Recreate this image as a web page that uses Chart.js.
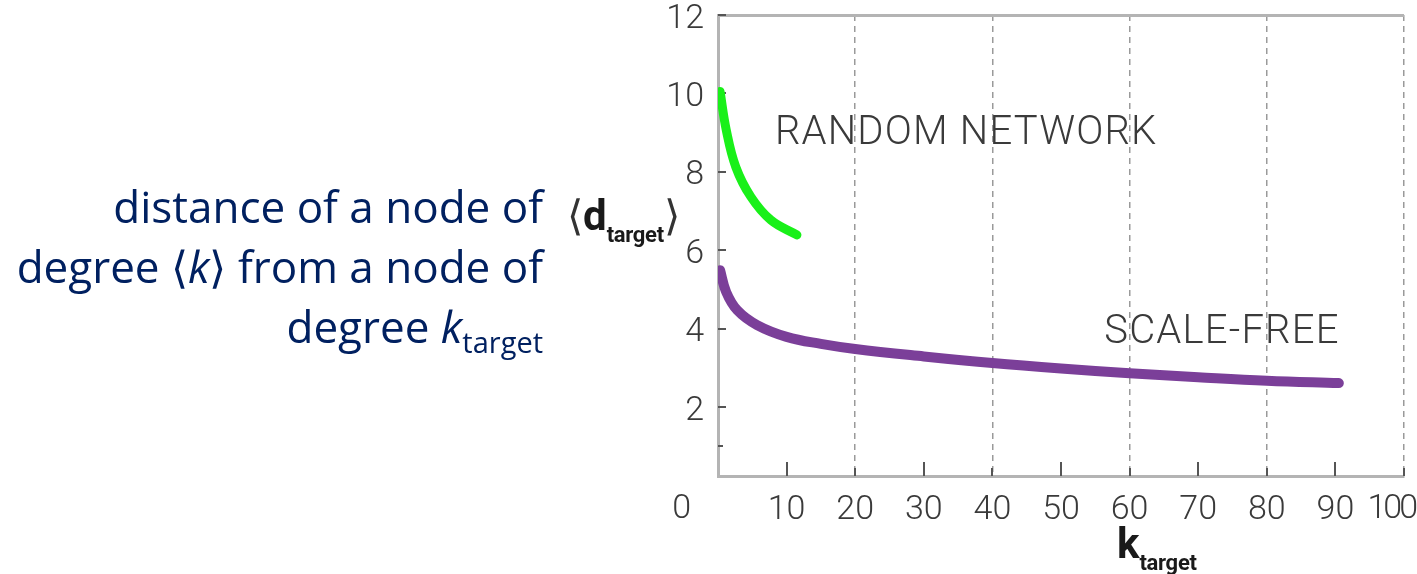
<!DOCTYPE html>
<html lang="en">
<head>
<meta charset="UTF-8">
<title>Distance to a node of degree k_target</title>
<script src="https://cdn.jsdelivr.net/npm/chart.js"></script>
<style>
  body { margin: 0; background: #fff; }
  #wrap { position: relative; width: 1417px; height: 574px; overflow: hidden; }
  #chart { position: absolute; left: 0; top: 0; }
  .txt { position: absolute; white-space: nowrap; }
  #desc {
    right: 874px; top: 176px;
    font-family: 'Open Sans', sans-serif; font-size: 44px; line-height: 60px;
    color: #002060; text-align: right;
  }
  #desc sub { font-size: 29px; vertical-align: -10px; line-height: 0; }
  #ytitle { left: 567px; top: 191px; font-family: Roboto, sans-serif; color: #1a1a1a; }
  #xtitle { left: 1117px; top: 519px; font-family: Roboto, sans-serif; color: #1a1a1a; }
  .br { font-family: 'DejaVu Sans', sans-serif; font-weight: 200; font-size: 42px; color: #333; }
  .big { font-weight: 700; font-size: 42px; }
  .sub { font-weight: 700; font-size: 22px; position: relative; top: 12px; letter-spacing: -0.3px; }
</style>
</head>
<body>
<div id="wrap">
  <canvas id="chart" width="1417" height="574"></canvas>
  <div class="txt" id="desc">distance of a node of<br>degree ⟨<i>k</i>⟩ from a node of<br>degree <i>k</i><sub>target</sub></div>
  <div class="txt" id="ytitle"><span class="br">⟨</span><span class="big">d</span><span class="sub">target</span><span class="br">⟩</span></div>
  <div class="txt" id="xtitle"><span class="big">k</span><span class="sub">target</span></div>
</div>
<script>
// random network curve
const kRandom = [0.3, 1.2, 2.6, 4.8, 7.7, 11.5];
const dRandom = [10.05, 9.07, 8.12, 7.36, 6.77, 6.39];

// scale-free curve
const kScaleFree = [0.3, 1.2, 2.8, 5.7, 10, 15, 20, 30, 40, 50, 60, 70, 80, 90.5];
const dScaleFree = [5.49, 4.93, 4.47, 4.09, 3.79, 3.61, 3.48, 3.29, 3.12, 2.98, 2.86, 2.76, 2.67, 2.61];

const xTickValues = [10, 20, 30, 40, 50, 60, 70, 80, 90, 100];
const xDashedValues = [20, 40, 60, 80, 100];
const yTickValues = [2, 4, 6, 8, 10, 12];
const yMinorTicks = [1];

const toPoints = (xs, ys) => xs.map((x, i) => ({ x: x, y: ys[i] }));

const tickFont = { family: 'Roboto', weight: 300, size: 34 };
const textGray = '#3a3a3a';

// small ticks drawn inside the plot area, like the original figure
const innerTicks = {
  id: 'innerTicks',
  beforeDatasetsDraw(chart) {
    const { ctx, chartArea, scales: { x, y } } = chart;
    ctx.save();
    ctx.strokeStyle = '#555';
    ctx.lineWidth = 2;
    xTickValues.forEach(v => {
      const px = Math.round(x.getPixelForValue(v));
      const len = xDashedValues.includes(v) ? 8 : 14;
      ctx.beginPath();
      ctx.moveTo(px, chartArea.bottom);
      ctx.lineTo(px, chartArea.bottom - len);
      ctx.stroke();
    });
    yTickValues.concat(yMinorTicks).forEach(v => {
      const py = Math.round(y.getPixelForValue(v));
      ctx.beginPath();
      ctx.moveTo(chartArea.left, py);
      ctx.lineTo(chartArea.left + (yMinorTicks.includes(v) ? 5 : 8), py);
      ctx.stroke();
    });
    ctx.restore();
  },
  afterDraw(chart) {
    const { ctx, chartArea, scales: { x, y } } = chart;
    ctx.save();
    ctx.fillStyle = textGray;
    ctx.textBaseline = 'middle';
    ctx.textAlign = 'left';
    ctx.font = '300 40px Roboto';
    ctx.letterSpacing = '1.2px';
    ctx.fillText('RANDOM NETWORK', x.getPixelForValue(8.3), y.getPixelForValue(8.96));
    ctx.fillText('SCALE-FREE', x.getPixelForValue(56.3), y.getPixelForValue(3.88));
    ctx.font = '300 34px Roboto';
    // origin label and the last x label, which sits flush right in the original
    ctx.textAlign = 'right';
    ctx.letterSpacing = '0px';
    ctx.fillText('0', chartArea.left - 27, chartArea.bottom + 33);
    ctx.letterSpacing = '-3px';
    ctx.fillText('100', chartArea.right + 11, chartArea.bottom + 33);
    ctx.restore();
  }
};

new Chart(document.getElementById('chart'), {
  type: 'line',
  data: {
    datasets: [
      {
        label: 'Random network',
        data: toPoints(kRandom, dRandom),
        borderColor: '#19f019',
        borderWidth: 9,
        borderCapStyle: 'round',
        borderJoinStyle: 'round',
        tension: 0.4,
        pointRadius: 0,
        fill: false
      },
      {
        label: 'Scale-free',
        data: toPoints(kScaleFree, dScaleFree),
        borderColor: '#7b3f99',
        borderWidth: 10,
        borderCapStyle: 'round',
        borderJoinStyle: 'round',
        tension: 0.4,
        pointRadius: 0,
        fill: false
      }
    ]
  },
  options: {
    responsive: false,
    animation: false,
    layout: { padding: { top: 15, right: 13, left: 0, bottom: 0 } },
    plugins: { legend: { display: false }, tooltip: { enabled: false } },
    scales: {
      x: {
        type: 'linear',
        min: 0,
        max: 100,
        afterBuildTicks: s => { s.ticks = xTickValues.map(v => ({ value: v })); },
        afterFit: s => { s.height = 98; s.paddingLeft = 0; s.paddingRight = 0; },
        ticks: {
          font: tickFont, color: textGray, padding: 14, maxRotation: 0, autoSkip: false,
          callback: v => (v === 100 ? '' : String(v))
        },
        grid: {
          drawTicks: false,
          color: c => (c.tick && xDashedValues.includes(c.tick.value)) ? '#9a9a9a' : 'rgba(0,0,0,0)',
          lineWidth: 1.5
        },
        border: { display: true, color: '#b4b4b4', width: 3, dash: [6, 5] }
      },
      y: {
        type: 'linear',
        min: 0.24,
        max: 12,
        afterBuildTicks: s => { s.ticks = yTickValues.map(v => ({ value: v })); },
        afterFit: s => { s.width = 718; s.paddingTop = 0; s.paddingBottom = 0; },
        ticks: { font: tickFont, color: textGray, padding: 14, labelOffset: 4 },
        grid: {
          drawTicks: false,
          color: c => (c.tick && c.tick.value === 12) ? '#b4b4b4' : 'rgba(0,0,0,0)',
          lineWidth: 3
        },
        border: { display: true, color: '#b4b4b4', width: 3 }
      }
    }
  },
  plugins: [innerTicks]
});
</script>
</body>
</html>
